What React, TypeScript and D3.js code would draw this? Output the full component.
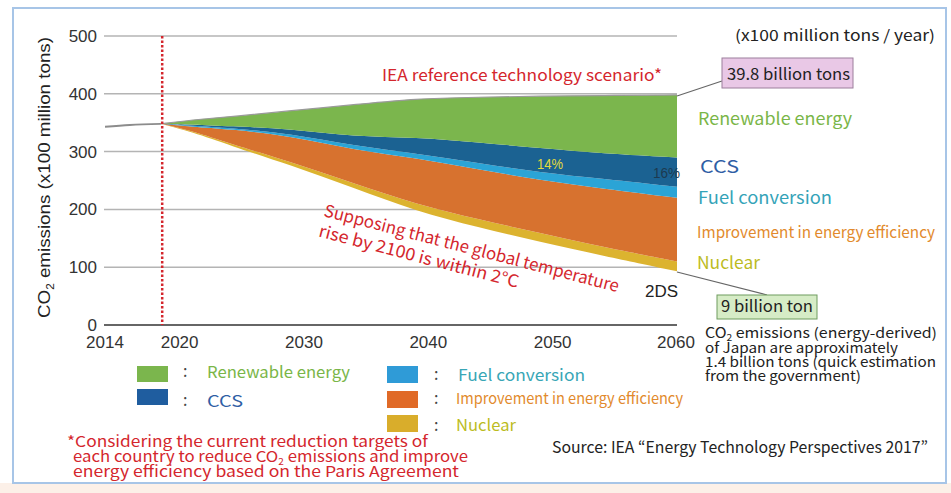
import React from 'react';
import * as d3 from 'd3';

// ---- data (x100 million tons CO2 / year) ----
const years = [2018.5, 2021, 2024, 2029, 2034, 2039, 2044, 2049, 2054, 2060];
const emissions2DS = [348, 334, 311, 276, 237, 197, 169, 144, 120, 93];
const nuclear = [0, 2, 3, 6, 8, 12, 14, 15, 15, 17];
const efficiency = [0, 7, 25, 45, 58, 80, 86, 92, 101, 110];
const fuelConversion = [0, 2, 2, 4, 7, 8, 11, 13, 17, 19];
const ccs = [0, 2, 3, 8, 16, 28, 36, 42, 44, 51];
const renewable = [0, 8, 16, 32, 55, 67, 78, 90, 100, 108];

const historyYears = [2014, 2016, 2018.5];
const historyValues = [343, 346, 348];

const xTicks = [2014, 2020, 2030, 2040, 2050, 2060];
const yTicks = [0, 100, 200, 300, 400, 500];
const parisYear = 2018.6;

const layerKeys = ['base', 'nuclear', 'efficiency', 'fuel', 'ccs', 'renewable'];
const layerColors: Record<string, string> = {
  nuclear: '#dcb32f',
  efficiency: '#d7722f',
  fuel: '#2ba4d6',
  ccs: '#1b6292',
  renewable: '#7bb64d',
};

const JP = '"Noto Sans CJK JP", "Noto Sans", sans-serif';
const AR = '"Liberation Sans", Arial, sans-serif';
const RED = '#d4262d';

export default function App() {
  const x = d3.scaleLinear().domain([2014, 2060]).range([105, 677]);
  const y = d3.scaleLinear().domain([0, 500]).range([325, 36]);

  const rows = years.map((yr, i) => ({
    year: yr,
    base: emissions2DS[i],
    nuclear: nuclear[i],
    efficiency: efficiency[i],
    fuel: fuelConversion[i],
    ccs: ccs[i],
    renewable: renewable[i],
  }));
  const series = d3.stack<any>().keys(layerKeys)(rows);
  const area = d3
    .area<any>()
    .x((d) => x(d.data.year))
    .y0((d) => y(d[0]))
    .y1((d) => y(d[1]))
    .curve(d3.curveBasis);
  const topLine = d3
    .line<any>()
    .x((d) => x(d.data.year))
    .y((d) => y(d[1]))
    .curve(d3.curveBasis);
  const histLine = d3
    .line<number>()
    .x((_, i) => x(historyYears[i]))
    .y((d) => y(d))
    .curve(d3.curveMonotoneX);

  const top = series[series.length - 1];

  return (
    <svg
      width={951}
      height={493}
      style={{ position: 'fixed', left: 0, top: 0, background: '#fff' }}
    >
      <rect x={0} y={483} width={951} height={10} fill="#fcf0e8" />
      <rect x={13} y={8} width={933} height={475} fill="#fff" stroke="#a7c5e7" strokeWidth={2} />

      {/* grid */}
      {yTicks.map((t) => (
        <line
          key={t}
          x1={104}
          x2={677}
          y1={y(t)}
          y2={y(t)}
          stroke={t === 0 ? '#666' : '#b4b4b4'}
          strokeWidth={t === 0 ? 2 : 1.5}
        />
      ))}
      {yTicks.map((t) => (
        <text key={t} x={97} y={y(t) + 6} textAnchor="end" fontFamily={AR} fontSize={17} fill="#333">
          {t}
        </text>
      ))}
      {xTicks.map((t) => (
        <text key={t} x={t === 2060 ? 676 : x(t)} y={348} textAnchor="middle" fontFamily={AR} fontSize={17} fill="#333">
          {t}
        </text>
      ))}
      <text
        transform="translate(50,318) rotate(-90)"
        fontFamily={AR}
        fontSize={16}
        fill="#222"
        textLength={281}
        lengthAdjust="spacingAndGlyphs"
      >
        <tspan>CO</tspan>
        <tspan fontSize={10} dy={4}>2</tspan>
        <tspan dy={-4}> emissions (x100 million tons)</tspan>
      </text>

      {/* layers */}
      {series.slice(1).map((s) => (
        <path key={s.key} d={area(s) || ''} fill={layerColors[s.key]} />
      ))}
      <path d={topLine(top) || ''} fill="none" stroke="#9a9a9a" strokeWidth={1.2} />
      <path d={histLine(historyValues) || ''} fill="none" stroke="#8c8c8c" strokeWidth={1.8} />

      {/* Paris line */}
      <line
        x1={x(parisYear)}
        x2={x(parisYear)}
        y1={y(500)}
        y2={y(0)}
        stroke={RED}
        strokeWidth={2.5}
        strokeDasharray="2.5,2"
      />

      {/* annotations */}
      <text x={735} y={41} fontFamily={JP} fontSize={15} fill="#222" textLength={200} lengthAdjust="spacingAndGlyphs">
        (x100 million tons / year)
      </text>
      <text x={382} y={81} fontFamily={JP} fontSize={16} fill={RED} textLength={280} lengthAdjust="spacingAndGlyphs">
        IEA reference technology scenario*
      </text>
      <line x1={677} y1={96} x2={722} y2={81} stroke="#666" strokeWidth={1.2} />
      <rect x={722} y={58} width={131} height={30} fill="#e9c8e6" stroke="#9c7f9c" strokeWidth={1} />
      <text x={727} y={80} fontFamily={JP} fontSize={16} fill="#222" textLength={123} lengthAdjust="spacingAndGlyphs">
        39.8 billion tons
      </text>

      <text x={698} y={125} fontFamily={JP} fontSize={17} fill="#7ab648" textLength={154} lengthAdjust="spacingAndGlyphs">
        Renewable energy
      </text>
      <text x={700} y={173} fontFamily={JP} fontSize={17} fill="#2f5ea5" textLength={39} lengthAdjust="spacingAndGlyphs">
        CCS
      </text>
      <text x={698} y={204} fontFamily={JP} fontSize={17} fill="#34a3b8" textLength={134} lengthAdjust="spacingAndGlyphs">
        Fuel conversion
      </text>
      <text x={697} y={238} fontFamily={JP} fontSize={16} fill="#e28a2c" textLength={238} lengthAdjust="spacingAndGlyphs">
        Improvement in energy efficiency
      </text>
      <text x={697} y={269} fontFamily={JP} fontSize={17} fill="#bcbc1f" textLength={63} lengthAdjust="spacingAndGlyphs">
        Nuclear
      </text>

      <text x={537} y={169} fontFamily={AR} fontSize={14} fill="#e2da3c" textLength={26} lengthAdjust="spacingAndGlyphs">
        14%
      </text>
      <text x={653} y={178} fontFamily={AR} fontSize={14} fill="#1d3a50" textLength={27} lengthAdjust="spacingAndGlyphs">
        16%
      </text>

      <g transform="translate(323,216) rotate(14.5)">
        <text x={0} y={0} fontFamily={JP} fontSize={17} fill={RED} textLength={304} lengthAdjust="spacingAndGlyphs">
          Supposing that the global temperature
        </text>
        <text x={0} y={21} fontFamily={JP} fontSize={17} fill={RED} textLength={206} lengthAdjust="spacingAndGlyphs">
          rise by 2100 is within 2°C
        </text>
      </g>

      <text x={645} y={297} fontFamily={AR} fontSize={16} fill="#222" textLength={33} lengthAdjust="spacingAndGlyphs">
        2DS
      </text>
      <line x1={677} y1={272} x2={767} y2={295} stroke="#666" strokeWidth={1.2} />
      <rect x={717} y={295} width={100} height={24} fill="#d6ecc6" stroke="#6f9c5f" strokeWidth={1} />
      <text x={721} y={312} fontFamily={JP} fontSize={16} fill="#222" textLength={92} lengthAdjust="spacingAndGlyphs">
        9 billion ton
      </text>

      <text x={705} y={338} fontFamily={JP} fontSize={14} fill="#222" textLength={232} lengthAdjust="spacingAndGlyphs">
        <tspan>CO</tspan>
        <tspan fontSize={9} dy={3}>2</tspan>
        <tspan dy={-3}> emissions (energy-derived)</tspan>
      </text>
      <text x={705} y={353} fontFamily={JP} fontSize={14} fill="#222" textLength={193} lengthAdjust="spacingAndGlyphs">
        of Japan are approximately
      </text>
      <text x={705} y={367} fontFamily={JP} fontSize={14} fill="#222" textLength={231} lengthAdjust="spacingAndGlyphs">
        1.4 billion tons (quick estimation
      </text>
      <text x={705} y={381} fontFamily={JP} fontSize={14} fill="#222" textLength={156} lengthAdjust="spacingAndGlyphs">
        from the government)
      </text>

      {/* legend */}
      <rect x={137} y={366} width={31} height={16} fill={layerColors.renewable} />
      <rect x={137} y={389} width={31} height={16} fill="#1f5d9f" />
      <rect x={387} y={366} width={31} height={17} fill="#2f9bd7" />
      <rect x={387} y={391} width={31} height={17} fill="#e06a27" />
      <rect x={387} y={415} width={31} height={17} fill="#d9ad2b" />
      {[377, 406].map((yy) => (
        <text key={yy} x={183} y={yy} fontFamily={JP} fontSize={16} fill="#444">:</text>
      ))}
      {[380, 404, 431].map((yy) => (
        <text key={yy} x={434} y={yy} fontFamily={JP} fontSize={16} fill="#444">:</text>
      ))}
      <text x={207} y={378} fontFamily={JP} fontSize={16} fill="#7ab648" textLength={143} lengthAdjust="spacingAndGlyphs">
        Renewable energy
      </text>
      <text x={207} y={407} fontFamily={JP} fontSize={16} fill="#2f5ea5" textLength={36} lengthAdjust="spacingAndGlyphs">
        CCS
      </text>
      <text x={458} y={381} fontFamily={JP} fontSize={16} fill="#38a6b6" textLength={127} lengthAdjust="spacingAndGlyphs">
        Fuel conversion
      </text>
      <text x={456} y={404} fontFamily={JP} fontSize={15} fill="#e28a2c" textLength={227} lengthAdjust="spacingAndGlyphs">
        Improvement in energy efficiency
      </text>
      <text x={456} y={431} fontFamily={JP} fontSize={16} fill="#bcbc1f" textLength={60} lengthAdjust="spacingAndGlyphs">
        Nuclear
      </text>

      {/* footnotes */}
      <text x={67} y={447} fontFamily={JP} fontSize={15} fill={RED} textLength={361} lengthAdjust="spacingAndGlyphs">
        *Considering the current reduction targets of
      </text>
      <text x={73} y={462} fontFamily={JP} fontSize={15} fill={RED} textLength={395} lengthAdjust="spacingAndGlyphs">
        <tspan>each country to reduce CO</tspan>
        <tspan fontSize={9} dy={3}>2</tspan>
        <tspan dy={-3}> emissions and improve</tspan>
      </text>
      <text x={73} y={477} fontFamily={JP} fontSize={15} fill={RED} textLength={386} lengthAdjust="spacingAndGlyphs">
        energy efficiency based on the Paris Agreement
      </text>
      <text x={552} y={453} fontFamily={JP} fontSize={16} fill="#222" textLength={376} lengthAdjust="spacingAndGlyphs">
        Source: IEA “Energy Technology Perspectives 2017”
      </text>
    </svg>
  );
}
